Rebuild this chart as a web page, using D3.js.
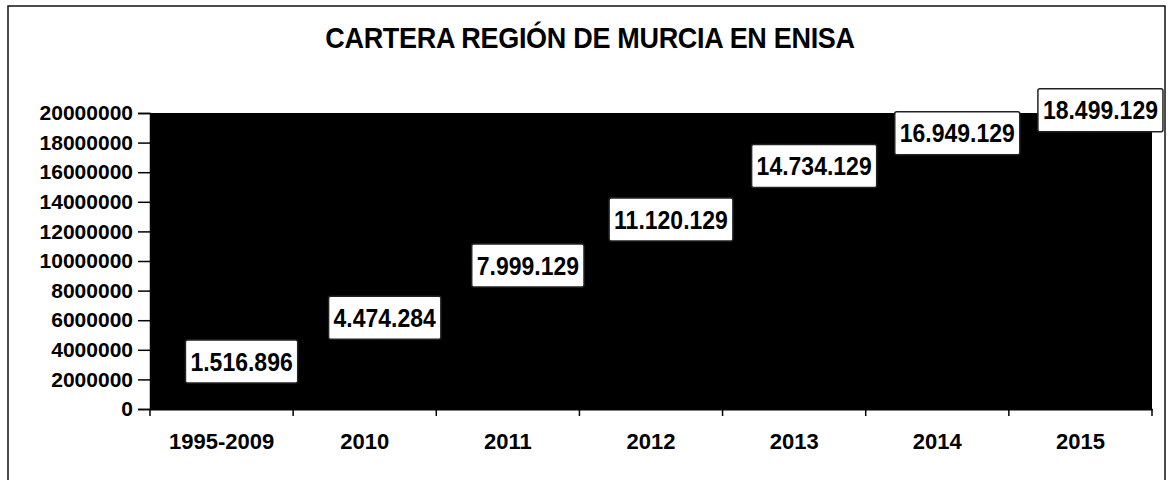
<!DOCTYPE html>
<html>
<head>
<meta charset="utf-8">
<script src="https://cdn.jsdelivr.net/npm/d3@7/dist/d3.min.js"></script>
<style>
  html, body { margin: 0; padding: 0; background: #fff; }
  svg { display: block; font-family: "Liberation Sans", Arial, sans-serif; }
</style>
</head>
<body>
<svg id="chart" width="1170" height="480"></svg>
<script>
const categories = ["1995-2009", "2010", "2011", "2012", "2013", "2014", "2015"];
const values = [1516896, 4474284, 7999129, 11120129, 14734129, 16949129, 18499129];
const valueLabels = ["1.516.896", "4.474.284", "7.999.129", "11.120.129", "14.734.129", "16.949.129", "18.499.129"];
const yTicks = [0, 2000000, 4000000, 6000000, 8000000, 10000000, 12000000, 14000000, 16000000, 18000000, 20000000];
const title = "CARTERA REGIÓN DE MURCIA EN ENISA";

const svg = d3.select("#chart");
const plot = { left: 150, right: 1152, top: 113, bottom: 409 };

// outer frame
svg.append("rect")
  .attr("x", 8).attr("y", 6).attr("width", 1157).attr("height", 500)
  .attr("fill", "#fff").attr("stroke", "#111").attr("stroke-width", 1.5);

// title (slightly tall, as in the scan)
svg.append("text")
  .attr("transform", "translate(590,48) scale(1,1.08)")
  .attr("text-anchor", "middle")
  .attr("font-size", 27).attr("font-weight", "bold")
  .attr("letter-spacing", -0.3)
  .attr("fill", "#000")
  .text(title);

const x = d3.scaleBand().domain(categories).range([plot.left, plot.right]).padding(0);
const y = d3.scaleLinear().domain([0, 20000000]).range([plot.bottom, plot.top]);

// plot area background
svg.append("rect")
  .attr("x", plot.left).attr("y", plot.top)
  .attr("width", plot.right - plot.left).attr("height", plot.bottom - plot.top)
  .attr("fill", "#000");

// bars (black on black, as in the scanned reference)
svg.append("g").selectAll("rect")
  .data(values)
  .join("rect")
  .attr("x", (d, i) => x(categories[i]) + x.bandwidth() * 0.2)
  .attr("width", x.bandwidth() * 0.6)
  .attr("y", d => y(d))
  .attr("height", d => y(0) - y(d))
  .attr("fill", "#000");

// y axis
const yAxis = svg.append("g")
  .attr("transform", `translate(${plot.left},0)`)
  .call(d3.axisLeft(y).tickValues(yTicks).tickFormat(d3.format("d")).tickSize(12).tickPadding(5));
yAxis.select(".domain").attr("stroke", "#000").attr("stroke-width", 1.5);
yAxis.selectAll(".tick line").attr("stroke", "#000").attr("stroke-width", 1.5);
yAxis.selectAll(".tick text")
  .attr("font-size", 21).attr("font-weight", "bold").attr("fill", "#000")
  .attr("font-family", "'Liberation Sans', Arial, sans-serif");

// x axis
const xAxis = svg.append("g")
  .attr("transform", `translate(0,${plot.bottom})`)
  .call(d3.axisBottom(x).tickSize(0).tickPadding(24));
xAxis.select(".domain").attr("stroke", "#000").attr("stroke-width", 2);
xAxis.selectAll(".tick text")
  .attr("font-size", 22).attr("font-weight", "bold").attr("fill", "#000")
  .attr("font-family", "'Liberation Sans', Arial, sans-serif");
// category boundary ticks
const bounds = categories.map(c => x(c)).concat([plot.right]);
svg.append("g").selectAll("line")
  .data(bounds)
  .join("line")
  .attr("x1", d => d).attr("x2", d => d)
  .attr("y1", plot.bottom).attr("y2", plot.bottom + 7)
  .attr("stroke", "#000").attr("stroke-width", 1.5);

// value labels
const lbl = svg.append("g").selectAll("g")
  .data(values)
  .join("g")
  .attr("transform", (d, i) => `translate(${x(categories[i]) + x.bandwidth() / 2 + 20},${y(d) - 25})`);
lbl.append("rect").attr("class", "box");
lbl.append("text")
  .attr("text-anchor", "middle")
  .attr("dy", "0.36em")
  .attr("transform", "scale(1,1.12)")
  .attr("font-size", 23).attr("font-weight", "bold").attr("fill", "#000")
  .text((d, i) => valueLabels[i]);
lbl.each(function () {
  const g = d3.select(this);
  const w = g.select("text").node().getComputedTextLength() + 10;
  g.select("rect")
    .attr("x", -w / 2).attr("y", -21.5)
    .attr("width", w).attr("height", 43)
    .attr("rx", 2)
    .attr("fill", "#fff").attr("stroke", "#222").attr("stroke-width", 1.5);
});
</script>
</body>
</html>
